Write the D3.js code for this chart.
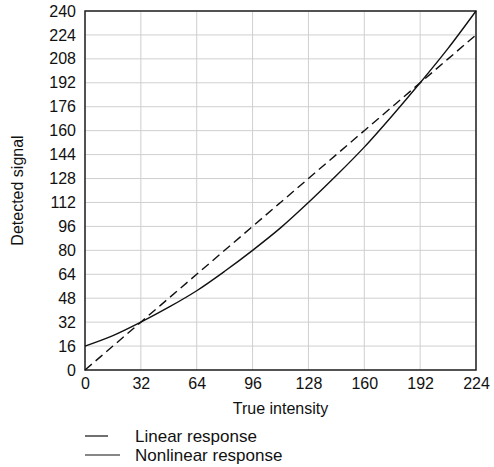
<!DOCTYPE html>
<html>
<head>
<meta charset="utf-8">
<script src="https://cdn.jsdelivr.net/npm/d3@7"></script>
<style>
  body { margin: 0; background: #fff; }
  text { font-family: "Liberation Sans", Arial, sans-serif; fill: #111; }
</style>
</head>
<body>
<div id="chart"></div>
<script>
// Datos
const intensidad = [0, 16, 32, 48, 64, 80, 96, 112, 128, 144, 160, 176, 192, 208, 224];
const lineal = [0, 16, 32, 48, 64, 80, 96, 112, 128, 144, 160, 176, 192, 208, 224];
const noLineal = [16, 23, 32, 42, 53, 66, 80, 95, 112, 130, 149, 170, 192, 215, 240];
const ticksX = [0, 32, 64, 96, 128, 160, 192, 224];
const ticksY = [0, 16, 32, 48, 64, 80, 96, 112, 128, 144, 160, 176, 192, 208, 224, 240];
const series = [
    { nombre: "Linear response", valores: lineal, dash: "9,5", legendDash: "23,40" },
    { nombre: "Nonlinear response", valores: noLineal, dash: null, legendDash: null }
];

const svgWidth = 494, svgHeight = 467;
const margin = { top: 11, right: 18, bottom: 97, left: 85 };
const width = svgWidth - margin.left - margin.right;
const height = svgHeight - margin.top - margin.bottom;

const svg = d3.select("#chart")
    .append("svg")
    .attr("width", svgWidth)
    .attr("height", svgHeight);

const g = svg.append("g")
    .attr("transform", `translate(${margin.left}, ${margin.top})`);

// Escalas
const x = d3.scaleLinear().domain([0, 224]).range([0, width]);
const y = d3.scaleLinear().domain([0, 240]).range([height, 0]);

// Rejilla
g.append("g")
    .selectAll("line")
    .data(ticksX)
    .join("line")
    .attr("x1", d => x(d)).attr("x2", d => x(d))
    .attr("y1", 0).attr("y2", height)
    .attr("stroke", "#cfcfcf").attr("stroke-width", 1);

g.append("g")
    .selectAll("line")
    .data(ticksY)
    .join("line")
    .attr("x1", 0).attr("x2", width)
    .attr("y1", d => y(d)).attr("y2", d => y(d))
    .attr("stroke", "#cfcfcf").attr("stroke-width", 1);

// Ejes
const ejeX = g.append("g")
    .attr("transform", `translate(0, ${height})`)
    .call(d3.axisBottom(x).tickValues(ticksX).tickSize(0).tickPadding(8));

const ejeY = g.append("g")
    .call(d3.axisLeft(y).tickValues(ticksY).tickSize(0).tickPadding(9));

[ejeX, ejeY].forEach(e => {
    e.select(".domain").remove();
    e.selectAll("text").style("font-size", "16px").attr("fill", "#111");
});

// Marco
g.append("rect")
    .attr("width", width).attr("height", height)
    .attr("fill", "none")
    .attr("stroke", "#222")
    .attr("stroke-width", 1.5);

// Lineas
const linea = vals => d3.line()
    .x((d, i) => x(intensidad[i]))
    .y(d => y(d))
    .curve(d3.curveMonotoneX)(vals);

series.forEach(s => {
    g.append("path")
        .attr("d", linea(s.valores))
        .attr("fill", "none")
        .attr("stroke", "#111")
        .attr("stroke-width", 1.4)
        .attr("stroke-dasharray", s.dash);
});

// Titulos
g.append("text")
    .attr("x", width / 2)
    .attr("y", height + 44)
    .attr("text-anchor", "middle")
    .style("font-size", "16px")
    .text("True intensity");

g.append("text")
    .attr("transform", `translate(${-62}, ${height / 2}) rotate(-90)`)
    .attr("text-anchor", "middle")
    .style("font-size", "16px")
    .text("Detected signal");

// Leyenda
const legend = svg.append("g")
    .attr("transform", `translate(85, 436)`);

series.forEach((s, i) => {
    legend.append("line")
        .attr("x1", 0).attr("x2", i === 0 ? 23 : 35)
        .attr("y1", i * 19).attr("y2", i * 19)
        .attr("stroke", "#111")
        .attr("stroke-width", 1.2)
        .attr("stroke-dasharray", s.legendDash);
    legend.append("text")
        .attr("x", 50).attr("y", i * 19 + 6)
        .style("font-size", "17px")
        .text(s.nombre);
});
</script>
</body>
</html>
